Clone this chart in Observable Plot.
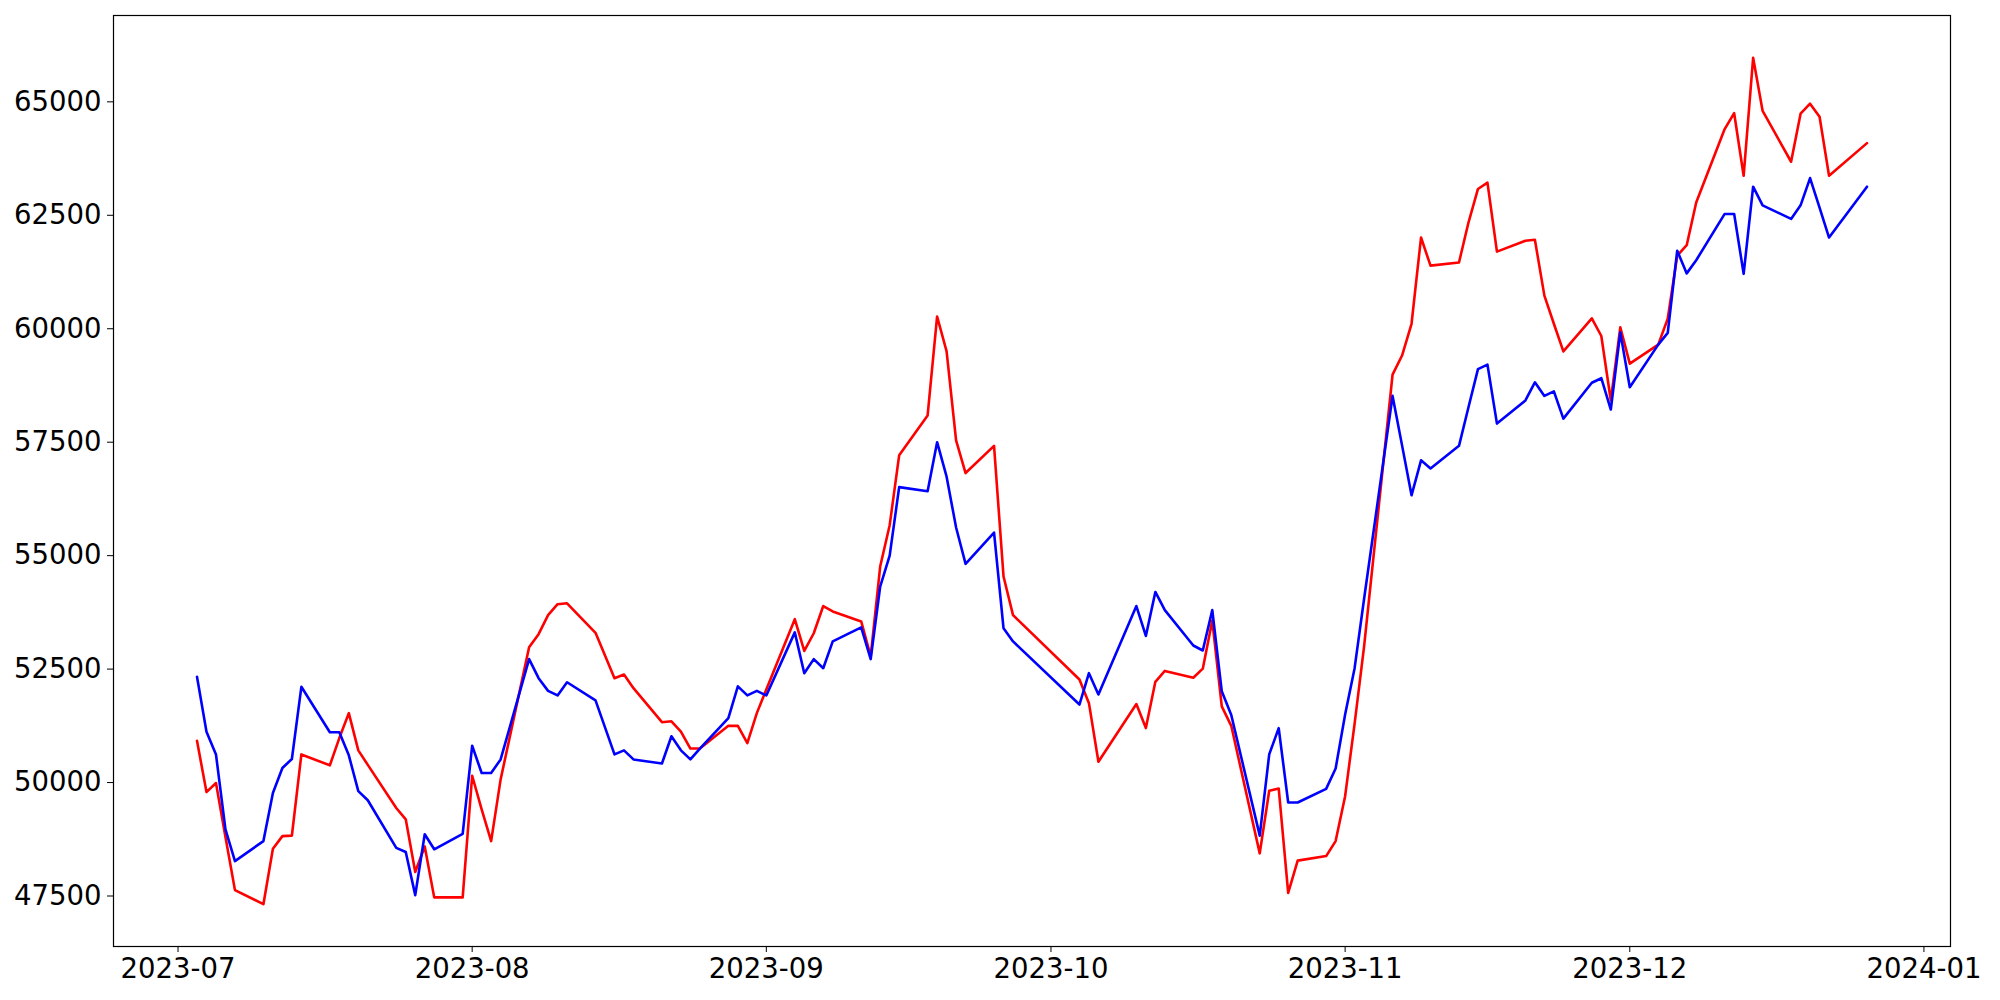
<!DOCTYPE html>
<html>
<head>
<meta charset="utf-8">
<script src="https://cdn.jsdelivr.net/npm/d3@7"></script>
<script src="https://cdn.jsdelivr.net/npm/@observablehq/plot@0.6"></script>
<style>
  html, body { margin: 0; padding: 0; background: #fff; }
  #chart svg { display: block; }
</style>
</head>
<body>
<div id="chart"></div>
<script>
// Trading days (Jul 3 – Dec 26, 2023)
const dates = [
  "2023-07-03","2023-07-04","2023-07-05","2023-07-06","2023-07-07","2023-07-10","2023-07-11","2023-07-12","2023-07-13","2023-07-14",
  "2023-07-17","2023-07-18","2023-07-19","2023-07-20","2023-07-21","2023-07-24","2023-07-25","2023-07-26","2023-07-27","2023-07-28","2023-07-31",
  "2023-08-01","2023-08-02","2023-08-03","2023-08-04","2023-08-07","2023-08-08","2023-08-09","2023-08-10","2023-08-11","2023-08-14",
  "2023-08-16","2023-08-17","2023-08-18","2023-08-21","2023-08-22","2023-08-23","2023-08-24","2023-08-25","2023-08-28","2023-08-29","2023-08-30","2023-08-31",
  "2023-09-01","2023-09-04","2023-09-05","2023-09-06","2023-09-07","2023-09-08","2023-09-11","2023-09-12","2023-09-13","2023-09-14","2023-09-15",
  "2023-09-18","2023-09-19","2023-09-20","2023-09-21","2023-09-22","2023-09-25","2023-09-26","2023-09-27",
  "2023-10-04","2023-10-05","2023-10-06","2023-10-10","2023-10-11","2023-10-12","2023-10-13","2023-10-16","2023-10-17","2023-10-18","2023-10-19","2023-10-20",
  "2023-10-23","2023-10-24","2023-10-25","2023-10-26","2023-10-27","2023-10-30","2023-10-31",
  "2023-11-01","2023-11-02","2023-11-03","2023-11-06","2023-11-07","2023-11-08","2023-11-09","2023-11-10","2023-11-13","2023-11-14","2023-11-15","2023-11-16","2023-11-17",
  "2023-11-20","2023-11-21","2023-11-22","2023-11-23","2023-11-24","2023-11-27","2023-11-28","2023-11-29","2023-11-30",
  "2023-12-01","2023-12-04","2023-12-05","2023-12-06","2023-12-07","2023-12-08","2023-12-11","2023-12-12","2023-12-13","2023-12-14","2023-12-15",
  "2023-12-18","2023-12-19","2023-12-20","2023-12-21","2023-12-22","2023-12-26"
];

// Red series
const redValues = [
  50920,49790,49990,48800,47630,47320,48540,48820,48830,50620,
  50380,50980,51530,50710,50390,49440,49190,48030,48590,47470,47470,
  50150,49410,48710,50070,52980,53270,53690,53930,53950,53300,
  52300,52380,52080,51330,51350,51120,50750,50750,51250,51250,50870,51530,
  52050,53600,52900,53290,53890,53770,53550,52780,54760,55670,57210,
  58090,60270,59500,57540,56820,57420,54540,53690,
  52270,51750,50460,51730,51200,52220,52460,52310,52510,53570,51680,51250,
  48440,49820,49870,47570,48280,48380,48710,
  49700,51300,53000,58990,59410,60110,62010,61390,61460,62340,63080,63220,61700,
  61940,61960,60730,60110,59500,60230,59840,58420,60030,
  59230,59650,60220,61610,61840,62780,64400,64750,63370,65970,64800,
  63680,64740,64960,64670,63370,64090
];

// Blue series
const blueValues = [
  52330,51120,50620,48970,48270,48710,49770,50320,50520,52110,
  51110,51110,50600,49810,49610,48560,48470,47520,48860,48530,48870,
  50810,50210,50210,50510,52720,52300,52020,51920,52210,51810,
  50620,50710,50510,50420,51020,50710,50510,50750,51420,52120,51920,52020,
  51920,53310,52410,52720,52520,53110,53420,52720,54320,55000,56510,
  56420,57500,56740,55620,54820,55510,53400,53110,
  51720,52410,51940,53890,53230,54200,53800,53020,52910,53800,52010,51490,
  48830,50620,51200,49560,49560,49860,50310,
  51500,52520,54050,58520,57430,56330,57100,56920,57420,58270,59110,59210,57910,
  58420,58820,58520,58620,58020,58810,58910,58220,59920,
  58710,59650,59910,61720,61220,61510,62530,62530,61210,63130,62720,
  62420,62720,63320,62670,62010,63130
];

const yTicks = [47500, 50000, 52500, 55000, 57500, 60000, 62500, 65000];
const xTickLabels = ["2023-07","2023-08","2023-09","2023-10","2023-11","2023-12","2024-01"];

const parse = d3.utcParse("%Y-%m-%d");
const parseMonth = d3.utcParse("%Y-%m");
const rows = dates.map((d, i) => ({date: parse(d), red: redValues[i], blue: blueValues[i]}));
const xTicks = xTickLabels.map(parseMonth);

// matplotlib-style 5% margins
const [x0, x1] = d3.extent(rows, d => d.date);
const xPad = (x1 - x0) * 0.05;
const allY = redValues.concat(blueValues);
const [y0, y1] = d3.extent(allY);
const yPad = (y1 - y0) * 0.05;

const chart = Plot.plot({
  width: 2000,
  height: 1000,
  marginLeft: 113,
  marginRight: 50,
  marginTop: 15,
  marginBottom: 54,
  style: {fontFamily: "'DejaVu Sans', sans-serif", fontSize: "27.5px", color: "black", background: "white"},
  x: {type: "utc", domain: [new Date(+x0 - xPad), new Date(+x1 + xPad)]},
  y: {domain: [y0 - yPad, y1 + yPad]},
  marks: [
    Plot.axisX({ticks: xTicks, tickFormat: d3.utcFormat("%Y-%m"), tickSize: 6, tickPadding: 6, label: null, fontSize: 27.5}),
    Plot.axisY({ticks: yTicks, tickFormat: d => String(d), tickSize: 6, tickPadding: 6, label: null, fontSize: 27.5}),
    Plot.lineY(rows, {x: "date", y: "red", stroke: "red", strokeWidth: 2.6}),
    Plot.lineY(rows, {x: "date", y: "blue", stroke: "blue", strokeWidth: 2.6}),
    Plot.frame({stroke: "black", strokeWidth: 1.2})
  ]
});
document.getElementById("chart").appendChild(chart);
</script>
</body>
</html>
